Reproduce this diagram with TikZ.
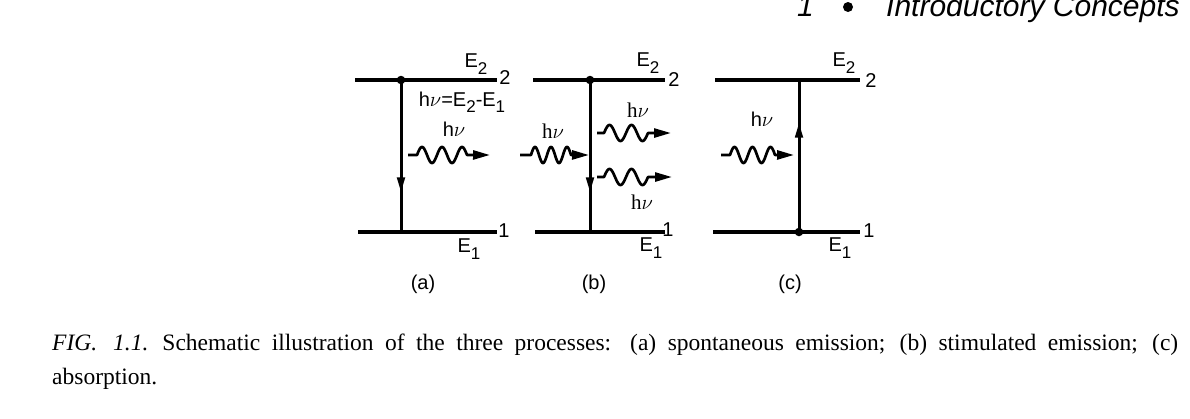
\documentclass[tikz,border=0pt]{standalone}
\usepackage{fontspec}
\setmainfont{Liberation Serif}
\newfontfamily\labfont{Liberation Sans}
\usetikzlibrary{arrows.meta,decorations.markings}
\newcommand{\sbs}[1]{\raisebox{-0.32em}{\fontsize{17}{17}\selectfont #1}}
\newcommand{\photonwave}[7]{%
  \coordinate (#1s) at (#2,#3);
  \coordinate (#1e) at (#7,#3);
  \draw[wavestyle] (#1s) -- (#4,#3) -- plot[domain=0:#6, samples=90, smooth] ({#4+\x*#5},{#3-8*sin(\x*360)}) -- (#1e);
}
\begin{document}
\begin{tikzpicture}[x=1pt,y=-1pt,
  level/.style={line width=4pt},
  transition/.style={line width=3pt},
  wavestyle/.style={line width=2.7pt, line join=round, -{Triangle[length=17pt,width=9pt]}},
  dotstyle/.style={circle, fill, inner sep=0pt, minimum size=8.5pt},
  lbl/.style={font=\labfont\fontsize{20}{20}\selectfont, inner sep=0pt},
  hvs/.style={font=\labfont\fontsize{20}{20}\selectfont, inner sep=0pt},
  hvr/.style={font=\fontsize{21}{21}\selectfont, inner sep=0pt},
  midarrowdown/.style={postaction={decorate, decoration={markings, mark=at position #1 with {\arrow{Triangle[length=15pt,width=7.5pt]}}}}}
]
\useasboundingbox (0,0) rectangle (1190,418);
\clip (0,0) rectangle (1190,418);
\fill[white] (0,0) rectangle (1190,418);

% header
\node[anchor=base west, inner sep=0pt, font=\labfont\itshape\fontsize{30}{30}\selectfont] (hnum) at (797,16) {1};
\node[circle, fill, inner sep=0pt, minimum size=10pt] (hbul) at (848,7) {};
\node[anchor=base west, inner sep=0pt, font=\labfont\itshape\fontsize{30}{30}\selectfont] (htitle) at (886,16) {Introductory Concepts};

% ---------- (a) ----------
\coordinate (a2l) at (355,80); \coordinate (a2r) at (497,80);
\coordinate (a1l) at (358,232); \coordinate (a1r) at (497,232);
\draw[level] (a2l) -- (a2r);
\draw[level] (a1l) -- (a1r);
\node[dotstyle] (atop) at (401,80) {};
\coordinate (abot) at (401,232);
\draw[transition, midarrowdown=0.74] (atop.center) -- (abot);
\node[lbl] (aE2) at (476,64) {E\sbs{2}};
\node[lbl] (aE1) at (469,249) {E\sbs{1}};
\node[lbl] (an2) at (505,78) {2};
\node[lbl] (an1) at (504,231) {1};
\node[hvs] (aeq) at (462,102) {h$\nu$=E\sbs{2}-E\sbs{1}};
\node[hvs] (ahv) at (454,129) {h$\nu$};
\photonwave{aw}{408}{155}{417}{20}{2.5}{490}
\node[lbl] (alab) at (423,284) {(a)};

% ---------- (b) ----------
\coordinate (b2l) at (533,80); \coordinate (b2r) at (665,80);
\coordinate (b1l) at (535,232); \coordinate (b1r) at (665,232);
\draw[level] (b2l) -- (b2r);
\draw[level] (b1l) -- (b1r);
\node[dotstyle] (btop) at (590,80) {};
\coordinate (bbot) at (590,232);
\draw[transition, midarrowdown=0.74] (btop.center) -- (bbot);
\node[lbl] (bE2) at (648,63) {E\sbs{2}};
\node[lbl] (bE1) at (651,248) {E\sbs{1}};
\node[lbl] (bn2) at (674,80) {2};
\node[lbl] (bn1) at (668,230) {1};
\node[hvr] (bhv1) at (638,110) {h$\nu$};
\node[hvr] (bhv2) at (553,131) {h$\nu$};
\node[hvr] (bhv3) at (642,202) {h$\nu$};
\photonwave{bwin}{520}{155}{531}{16}{2.5}{589}
\photonwave{bwo1}{597}{133}{604}{22}{2}{671}
\photonwave{bwo2}{597}{177}{604}{22}{2}{672}
\node[lbl] (blab) at (594,284) {(b)};

% ---------- (c) ----------
\coordinate (c2l) at (715,80); \coordinate (c2r) at (860,80);
\coordinate (c1l) at (713,232); \coordinate (c1r) at (860,232);
\draw[level] (c2l) -- (c2r);
\draw[level] (c1l) -- (c1r);
\node[dotstyle] (cbot) at (799,232) {};
\coordinate (ctop) at (799,80);
\draw[transition, midarrowdown=0.72] (cbot.center) -- (ctop);
\node[lbl] (cE2) at (844,63) {E\sbs{2}};
\node[lbl] (cE1) at (840,248) {E\sbs{1}};
\node[lbl] (cn2) at (871,81) {2};
\node[lbl] (cn1) at (869,231) {1};
\node[hvs] (chv) at (762,119) {h$\nu$};
\photonwave{cw}{721}{155}{730}{18}{2.5}{794}
\node[lbl] (clab) at (790,284) {(c)};

% caption
\node[anchor=base west, inner sep=0pt, font=\fontsize{23.5}{23.5}\selectfont] (cap1) at (52,350) {\makebox[1126pt][s]{\textit{FIG.}\hspace{16pt}\textit{1.1.}\hspace{14pt}Schematic illustration of the three processes: (a) spontaneous emission; (b) stimulated emission; (c)}};
\node[anchor=base west, inner sep=0pt, font=\fontsize{23.5}{23.5}\selectfont] (cap2) at (52,384) {absorption.};
\end{tikzpicture}
\end{document}
